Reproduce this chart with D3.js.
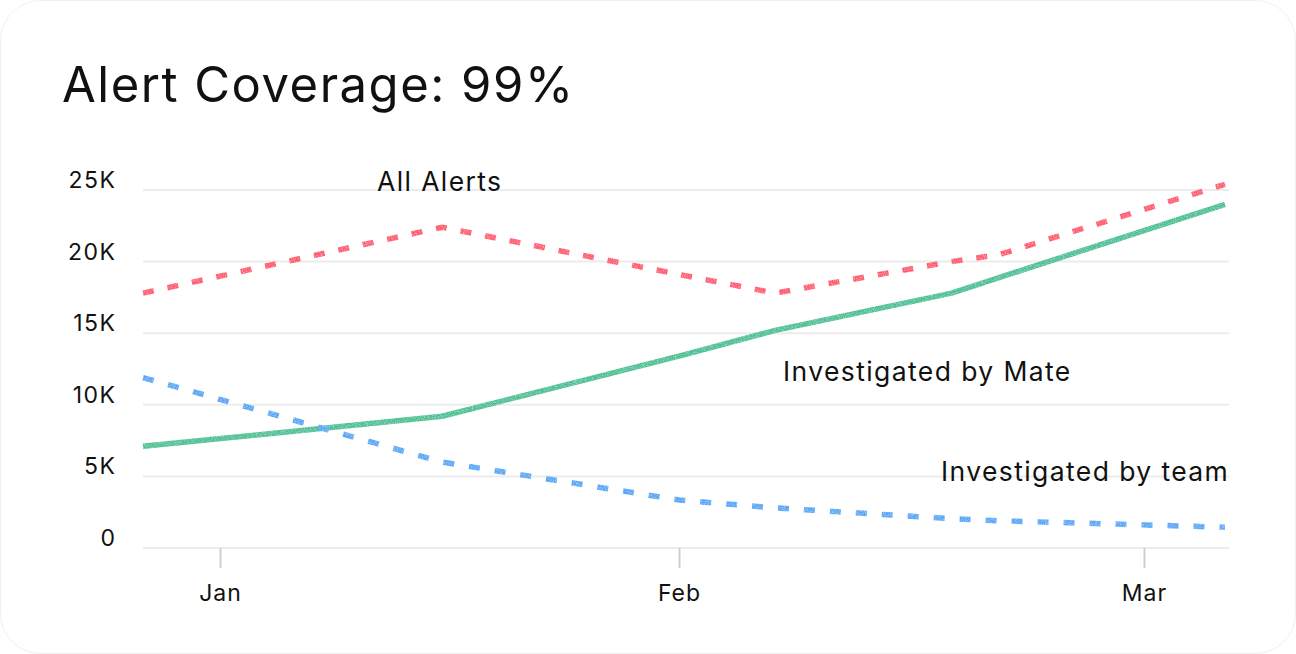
<!DOCTYPE html>
<html>
<head>
<meta charset="utf-8">
<script src="https://cdn.jsdelivr.net/npm/d3@7"></script>
<style>
  html, body { margin: 0; padding: 0; background: #ffffff; }
  svg { display: block; }
  text { font-family: Inter, "Noto Sans", sans-serif; fill: #111; }
</style>
</head>
<body>
<svg id="chart" width="1296" height="654"></svg>
<script>
// ---- data ----
const dates = ["2023-12-27", "2024-01-16", "2024-02-01", "2024-02-07", "2024-02-18", "2024-02-21", "2024-03-06"];
const allAlerts = [17800, 22400, 19100, 17800, 20000, 20500, 25400];
const investigatedByMate = [7100, 9200, 13400, 15200, 17800, 18900, 24000];
const investigatedByTeam = [11900, 6000, 3350, 2800, 2050, 1900, 1450];
const yTicks = [0, 5000, 10000, 15000, 20000, 25000];
const xTickDates = ["2024-01-01", "2024-02-01", "2024-03-01"];
const seriesNames = ["All Alerts", "Investigated by Mate", "Investigated by team"];
const title = "Alert Coverage: 99%";

// ---- setup ----
const W = 1296, H = 654;
const svg = d3.select("#chart");
const parse = d3.timeParse("%Y-%m-%d");

// card
svg.append("rect").attr("x", 0.5).attr("y", 0.5).attr("width", W - 1).attr("height", H - 1)
  .attr("rx", 40).attr("fill", "#fff").attr("stroke", "#f0f0f0").attr("stroke-width", 1);

// grain filter for sketchy strokes
const defs = svg.append("defs");
const f = defs.append("filter").attr("id", "grain")
  .attr("filterUnits", "userSpaceOnUse").attr("x", 0).attr("y", 0).attr("width", W).attr("height", H);
f.append("feTurbulence").attr("type", "fractalNoise").attr("baseFrequency", 1.1).attr("numOctaves", 2).attr("seed", 3).attr("result", "noise");
f.append("feColorMatrix").attr("in", "noise").attr("type", "matrix")
  .attr("values", "0 0 0 0 0  0 0 0 0 0  0 0 0 0 0  1.1 0 0 0 0.35").attr("result", "a");
f.append("feComposite").attr("in", "SourceGraphic").attr("in2", "a").attr("operator", "in");

// scales (piecewise time scale anchored on month ticks)
const tickD = xTickDates.map(parse);
const x = d3.scaleTime()
  .domain([parse(dates[0]), tickD[0], tickD[1], tickD[2], parse(dates[dates.length - 1])])
  .range([143, 220, 679, 1144, 1225]);
const y = d3.scaleLinear().domain([0, 25000]).range([548, 190]);

// title
svg.append("text").attr("x", 62).attr("y", 102).attr("font-size", 49).attr("font-weight", 400)
  .attr("letter-spacing", "1.5").text(title);

// grid
const gridX0 = 143, gridX1 = 1229;
svg.append("g").selectAll("line").data(yTicks).join("line")
  .attr("x1", gridX0).attr("x2", gridX1)
  .attr("y1", d => y(d)).attr("y2", d => y(d))
  .attr("stroke", "#ececec").attr("stroke-width", 2);

// y labels
const yFmt = d => d === 0 ? "0" : (d / 1000) + "K";
svg.append("g").selectAll("text").data(yTicks).join("text")
  .attr("x", 116.5).attr("y", d => y(d) - 2)
  .attr("text-anchor", "end").attr("font-size", 23).attr("letter-spacing", "1.5").text(yFmt);

// x axis
const xAxis = d3.axisBottom(x).tickValues(tickD).tickFormat(d3.timeFormat("%b")).tickSize(20).tickPadding(17);
const gx = svg.append("g").attr("transform", `translate(0,${y(0)})`).call(xAxis);
gx.select(".domain").remove();
gx.selectAll(".tick line").attr("stroke", "#cfcfcf").attr("stroke-width", 2);
gx.selectAll(".tick text").attr("font-size", 23).attr("letter-spacing", "1")
  .attr("font-family", "Inter, 'Noto Sans', sans-serif").attr("fill", "#111");

// lines
const series = [
  { name: seriesNames[0], values: allAlerts, color: "#ff5a6e", dash: "11 14" },
  { name: seriesNames[1], values: investigatedByMate, color: "#4dbf93", dash: null },
  { name: seriesNames[2], values: investigatedByTeam, color: "#5aa6f6", dash: "11 15" }
];
const line = d3.line().x(d => x(d.date)).y(d => y(d.v)).curve(d3.curveLinear);
const lg = svg.append("g").attr("filter", "url(#grain)");
series.forEach(s => {
  const pts = dates.map((d, i) => ({ date: parse(d), v: s.values[i] }));
  lg.append("path").datum(pts)
    .attr("d", line)
    .attr("fill", "none")
    .attr("stroke", s.color)
    .attr("stroke-width", 5.5)
    .attr("stroke-dasharray", s.dash)
    .attr("stroke-linejoin", "round");
});

// series labels
const labels = [
  { text: seriesNames[0], x: 377, y: 191 },
  { text: seriesNames[1], x: 783, y: 381 },
  { text: seriesNames[2], x: 941, y: 481 }
];
svg.append("g").selectAll("text").data(labels).join("text")
  .attr("x", d => d.x).attr("y", d => d.y).attr("font-size", 26.5).attr("letter-spacing", "1.4").text(d => d.text);
</script>
</body>
</html>
